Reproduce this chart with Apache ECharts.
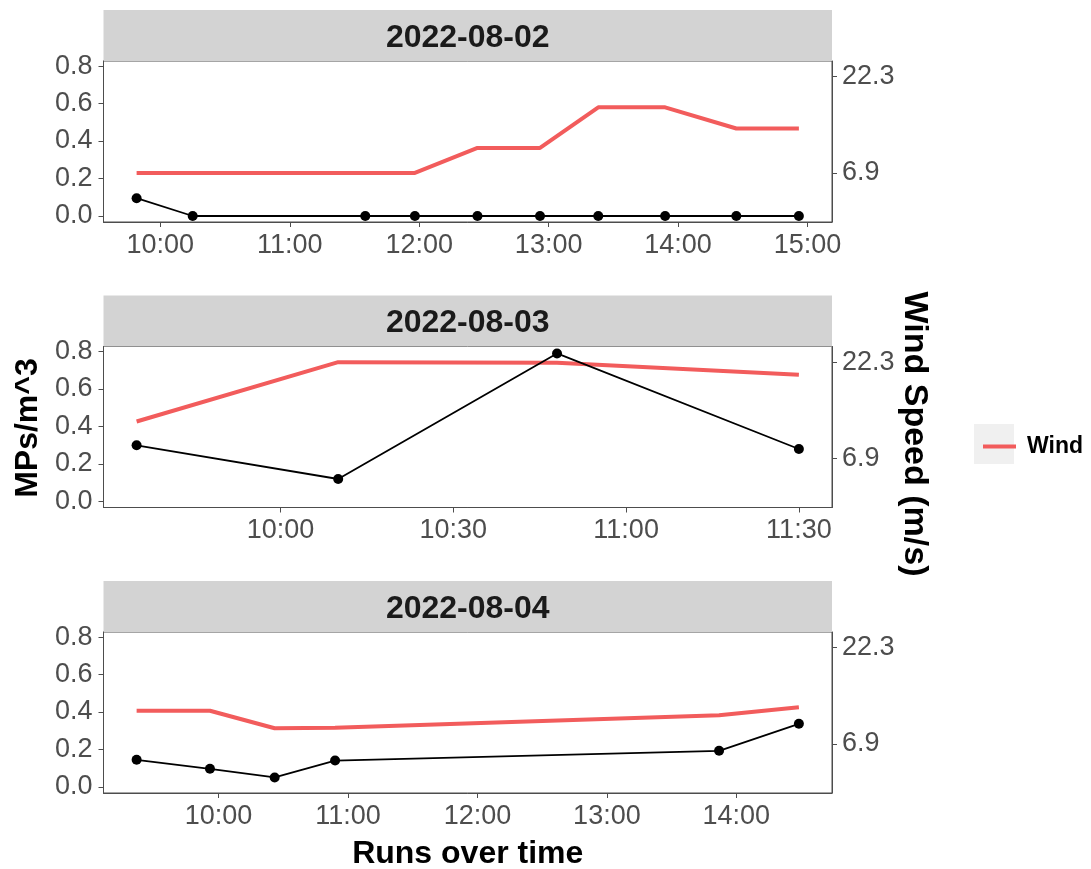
<!DOCTYPE html>
<html>
<head>
<meta charset="utf-8">
<script src="https://cdn.jsdelivr.net/npm/echarts@6/dist/echarts.min.js"></script>
<style>
  html, body { margin: 0; padding: 0; background: #ffffff; }
  #chart { width: 1091px; height: 869px; }
</style>
</head>
<body>
<div id="chart"></div>
<script>
// Facet labels (one panel per sampling day)
const days = ['2022-08-02', '2022-08-03', '2022-08-04'];

// 2022-08-02
const times0802 = ['09:49', '10:15', '11:35', '11:58', '12:27', '12:56', '13:23', '13:54', '14:27', '14:56'];
const mps0802   = [0.095, 0, 0, 0, 0, 0, 0, 0, 0, 0];
const wind0802  = [6.9, 6.9, 6.9, 6.9, 10.9, 10.9, 17.4, 17.4, 14.0, 14.0];
const ticks0802 = ['10:00', '11:00', '12:00', '13:00', '14:00', '15:00'];

// 2022-08-03
const times0803 = ['09:35', '10:10', '10:48', '11:30'];
const mps0803   = [0.30, 0.12, 0.79, 0.28];
const wind0803  = [12.8, 22.3, 22.2, 20.3];
const ticks0803 = ['10:00', '10:30', '11:00', '11:30'];

// 2022-08-04
const times0804 = ['09:22', '09:56', '10:26', '10:54', '13:52', '14:29'];
const mps0804   = [0.145, 0.097, 0.051, 0.141, 0.193, 0.337];
const wind0804  = [12.2, 12.2, 9.4, 9.5, 11.5, 12.75];
const ticks0804 = ['10:00', '11:00', '12:00', '13:00', '14:00'];

// Axis ticks
const mpsTicks  = [0, 0.2, 0.4, 0.6, 0.8];
const windTicks = [6.9, 22.3];

const panels = [
  { day: days[0], times: times0802, mps: mps0802, wind: wind0802, ticks: ticks0802 },
  { day: days[1], times: times0803, mps: mps0803, wind: wind0803, ticks: ticks0803 },
  { day: days[2], times: times0804, mps: mps0804, wind: wind0804, ticks: ticks0804 }
];

// Wind speed is drawn against a secondary axis scaled by this factor
const WIND_SCALE = 30;
const Y_MIN = -0.032, Y_MAX = 0.827;

const FONT = 'Liberation Sans, Arial, Helvetica, sans-serif';
const AXIS_GREY = '#4d4d4d';
const WIND_RED = '#f25c5c';

const toHours = s => { const p = s.split(':').map(Number); return p[0] + p[1] / 60; };
const fmtTime = v => {
  const total = Math.round(v * 60);
  const h = Math.floor(total / 60), m = total % 60;
  return String(h).padStart(2, '0') + ':' + String(m).padStart(2, '0');
};

const PLOT_LEFT = 103.5, PLOT_RIGHT = 832;
const gridTops = [61, 346.5, 632];
const GRID_H = 161;
const STRIP_H = 51;

const grids = [], xAxes = [], yAxes = [], series = [], graphics = [];

panels.forEach((p, i) => {
  const hrs = p.times.map(toHours);
  const lo = Math.min(...hrs), hi = Math.max(...hrs), pad = (hi - lo) * 0.05;
  const tickVals = p.ticks.map(toHours);

  grids.push({
    left: PLOT_LEFT, width: PLOT_RIGHT - PLOT_LEFT, top: gridTops[i], height: GRID_H,
    show: true, borderColor: AXIS_GREY, borderWidth: 1, backgroundColor: '#ffffff'
  });

  xAxes.push({
    gridIndex: i, type: 'value', min: lo - pad, max: hi + pad,
    axisLine: { show: true, onZero: false, lineStyle: { color: AXIS_GREY, width: 1 } },
    axisTick: { show: true, customValues: tickVals, length: 5, lineStyle: { color: AXIS_GREY } },
    axisLabel: { customValues: tickVals, formatter: fmtTime, fontSize: 27, color: AXIS_GREY,
                 fontFamily: FONT, margin: 10 },
    splitLine: { show: false }
  });

  yAxes.push({
    gridIndex: i, type: 'value', position: 'left', min: Y_MIN, max: Y_MAX,
    axisLine: { show: true, onZero: false, lineStyle: { color: AXIS_GREY, width: 1 } },
    axisTick: { show: true, customValues: mpsTicks, length: 5, lineStyle: { color: AXIS_GREY } },
    axisLabel: { customValues: mpsTicks, formatter: v => v.toFixed(1), fontSize: 27,
                 color: AXIS_GREY, fontFamily: FONT, margin: 11 },
    splitLine: { show: false }
  });
  yAxes.push({
    gridIndex: i, type: 'value', position: 'right',
    min: Y_MIN * WIND_SCALE, max: Y_MAX * WIND_SCALE,
    axisLine: { show: true, onZero: false, lineStyle: { color: AXIS_GREY, width: 1 } },
    axisTick: { show: true, customValues: windTicks, length: 5, lineStyle: { color: AXIS_GREY } },
    axisLabel: { customValues: windTicks, formatter: v => v.toFixed(1), fontSize: 27,
                 color: AXIS_GREY, fontFamily: FONT, margin: 10 },
    splitLine: { show: false }
  });

  series.push({
    name: 'Wind', type: 'line', xAxisIndex: i, yAxisIndex: 2 * i + 1,
    data: hrs.map((h, j) => [h, p.wind[j]]),
    showSymbol: false, symbol: 'none',
    lineStyle: { color: WIND_RED, width: 4 }, itemStyle: { color: WIND_RED },
    z: 2
  });
  series.push({
    name: 'MPs', type: 'line', xAxisIndex: i, yAxisIndex: 2 * i,
    data: hrs.map((h, j) => [h, p.mps[j]]),
    symbol: 'circle', symbolSize: 10,
    lineStyle: { color: '#000000', width: 1.8 }, itemStyle: { color: '#000000' },
    z: 3
  });

  // facet strip
  graphics.push({
    type: 'rect', shape: { x: PLOT_LEFT, y: gridTops[i] - STRIP_H, width: PLOT_RIGHT - PLOT_LEFT, height: STRIP_H },
    style: { fill: '#d3d3d3' }, silent: true
  });
  graphics.push({
    type: 'text', x: (PLOT_LEFT + PLOT_RIGHT) / 2, y: gridTops[i] - STRIP_H / 2 + 2.5,
    style: { text: p.day, fontSize: 32, fontWeight: 'bold', fontFamily: FONT, fill: '#1a1a1a',
             textAlign: 'center', textVerticalAlign: 'middle' }, silent: true
  });
});

// axis titles
graphics.push({
  type: 'text', x: 28, y: 428, rotation: Math.PI / 2,
  style: { text: 'MPs/m^3', fontSize: 32, fontWeight: 'bold', fontFamily: FONT, fill: '#000000',
           textAlign: 'center', textVerticalAlign: 'middle' }, silent: true
});
graphics.push({
  type: 'text', x: 914, y: 434, rotation: -Math.PI / 2,
  style: { text: 'Wind Speed (m/s)', fontSize: 34, fontWeight: 'bold', fontFamily: FONT, fill: '#000000',
           textAlign: 'center', textVerticalAlign: 'middle' }, silent: true
});
graphics.push({
  type: 'text', x: (PLOT_LEFT + PLOT_RIGHT) / 2, y: 854,
  style: { text: 'Runs over time', fontSize: 32, fontWeight: 'bold', fontFamily: FONT, fill: '#000000',
           textAlign: 'center', textVerticalAlign: 'middle' }, silent: true
});
// legend key background
graphics.push({
  type: 'rect', shape: { x: 974, y: 424, width: 40, height: 40 },
  style: { fill: '#f0f0f0' }, silent: true, z: -1
});

const chart = echarts.init(document.getElementById('chart'), null, { renderer: 'canvas' });
chart.setOption({
  animation: false,
  backgroundColor: '#ffffff',
  grid: grids,
  xAxis: xAxes,
  yAxis: yAxes,
  series: series,
  legend: {
    data: [{ name: 'Wind', icon: 'rect' }],
    left: 978, top: 430,
    itemWidth: 33, itemHeight: 4,
    textStyle: { fontSize: 23, fontWeight: 'bold', color: '#000000', fontFamily: FONT, padding: [0, 0, 0, 6] },
    selectedMode: false
  },
  graphic: graphics
});
</script>
</body>
</html>
